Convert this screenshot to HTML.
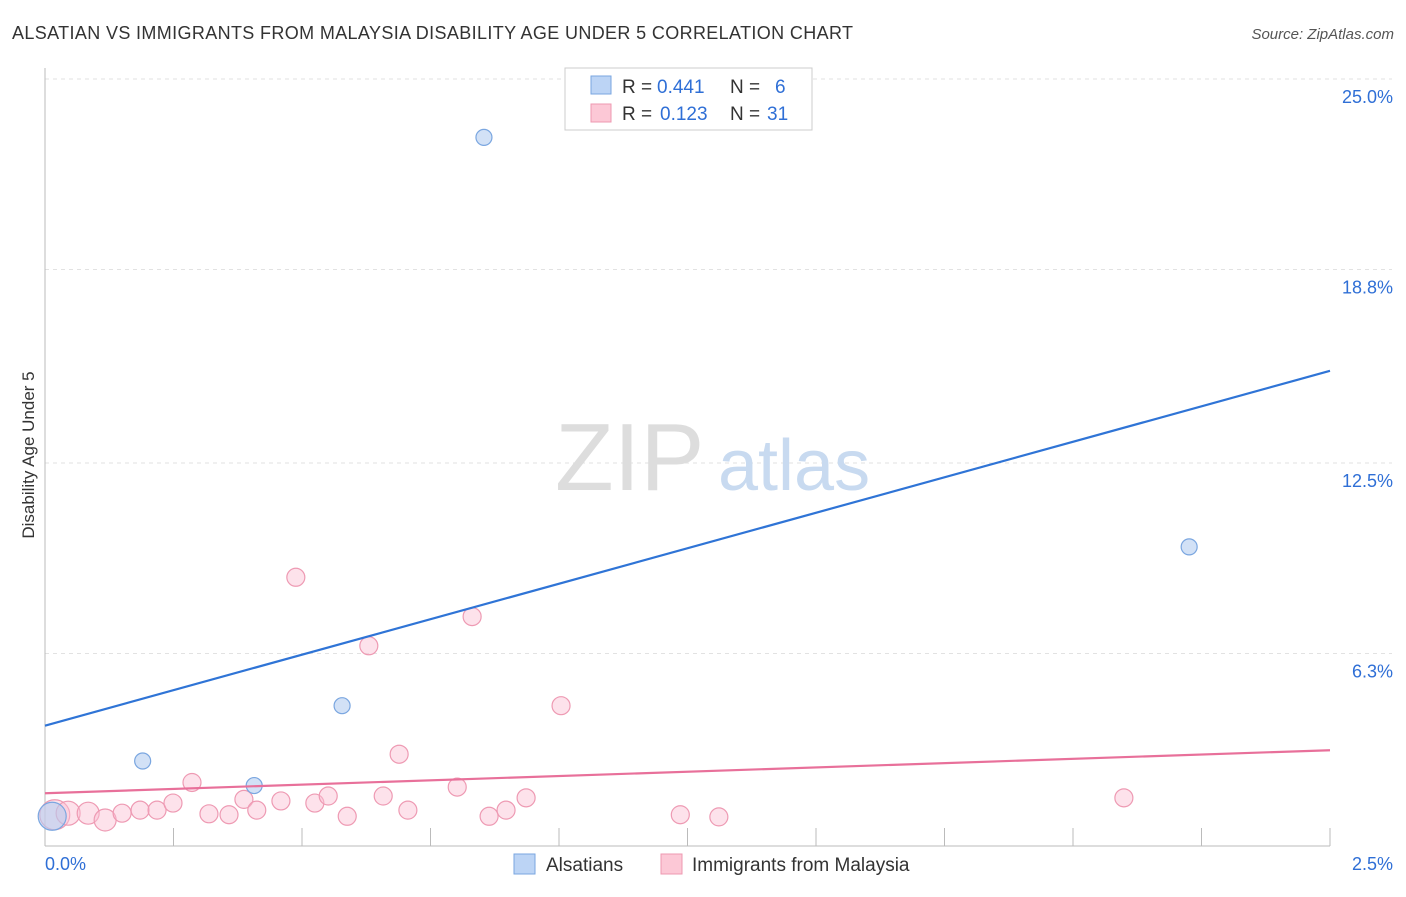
<!DOCTYPE html>
<html><head><meta charset="utf-8"><style>
body{margin:0;background:#fff;font-family:"Liberation Sans",sans-serif;}
svg text{font-family:"Liberation Sans",sans-serif;}
</style></head><body>
<svg id="chart" width="1406" height="892" xmlns="http://www.w3.org/2000/svg">
<text x="12" y="39" font-size="18" fill="#333" textLength="841">ALSATIAN VS IMMIGRANTS FROM MALAYSIA DISABILITY AGE UNDER 5 CORRELATION CHART</text>
<text x="1394" y="39" font-size="15" fill="#555" font-style="italic" text-anchor="end">Source: ZipAtlas.com</text>
<g id="grid"></g>
<g><text x="555" y="490" font-size="96" fill="#ddd" font-family="Liberation Serif">ZIP</text><text x="718" y="490" font-size="72" fill="#c8daf0">atlas</text></g>
<text transform="translate(34,455) rotate(-90)" font-size="17" fill="#333" text-anchor="middle">Disability Age Under 5</text>
<g id="marks"></g>
<g>
<rect x="565" y="68" width="247" height="62" fill="#fff" stroke="#ccc"/>
<rect x="591" y="76" width="20" height="18" fill="#bcd4f5" stroke="#7aa6e0"/>
<rect x="591" y="104" width="20" height="18" fill="#fcc8d6" stroke="#ee98b0"/>
<text x="622" y="93" font-size="19" fill="#333">R =</text>
<text x="657" y="93" font-size="19" fill="#2f6fd6">0.441</text>
<text x="730" y="93" font-size="19" fill="#333">N =</text>
<text x="775" y="93" font-size="19" fill="#2f6fd6">6</text>
<text x="622" y="120" font-size="19" fill="#333">R =</text>
<text x="660" y="120" font-size="19" fill="#2f6fd6">0.123</text>
<text x="730" y="120" font-size="19" fill="#333">N =</text>
<text x="767" y="120" font-size="19" fill="#2f6fd6">31</text>
</g>
<g>
<rect x="514" y="854" width="21" height="20" fill="#bcd4f5" stroke="#7aa6e0"/>
<text x="546" y="871" font-size="19" fill="#333">Alsatians</text>
<rect x="661" y="854" width="21" height="20" fill="#fcc8d6" stroke="#ee98b0"/>
<text x="692" y="871" font-size="19" fill="#333">Immigrants from Malaysia</text>
</g>
</svg>
<script>
const yTicks=[25.0,18.8,12.5,6.3];
const yTickLabels=["25.0%","18.8%","12.5%","6.3%"];
const xTickLabels=["0.0%","2.5%"];
const blueX=[0.854,0.19,0.407,0.578,2.226,0.014];
const blueY=[23.1,2.8,2.0,4.6,9.77,1.0];
const blueLine=[3.95,15.5];
const pinkX=[0.019,0.045,0.084,0.117,0.150,0.185,0.218,0.249,0.286,0.319,0.358,0.387,0.412,0.459,0.488,0.525,0.551,0.588,0.630,0.658,0.689,0.706,0.802,0.831,0.864,0.897,0.936,1.004,1.236,1.311,2.099];
const pinkY=[1.05,1.1,1.1,0.88,1.1,1.2,1.2,1.43,2.1,1.08,1.05,1.55,1.2,1.5,8.78,1.43,1.66,1.0,6.55,1.66,3.02,1.2,1.95,7.5,1.0,1.2,1.6,4.6,1.05,0.98,1.6];
const pinkR=[15,12,11,11,9,9,9,9,9,9,9,9,9,9,9,9,9,9,9,9,9,9,9,9,9,9,9,9,9,9,9];
const pinkLine=[1.75,3.15];
const NS="http://www.w3.org/2000/svg";
const X0=45,X1=1330,Y0=847;
const xs=v=>X0+v/2.5*(X1-X0);
const ys=v=>Y0-v*30.72;
function mk(t,a,p){const e=document.createElementNS(NS,t);for(const k in a)e.setAttribute(k,a[k]);p.appendChild(e);return e;}
const g=document.getElementById('grid'),m=document.getElementById('marks');
yTicks.forEach((v,i)=>{
 const l=mk('line',{x1:X0,x2:1392,y1:ys(v),y2:ys(v),stroke:'#e2e2e2','stroke-dasharray':'4,4'},g);
 
 
 const t=mk('text',{x:1393,y:ys(v)+24,'font-size':18,fill:'#2f6fd6','text-anchor':'end'},g);
 t.textContent=yTickLabels[i];
 
 
});
const ax=mk('line',{x1:X0,x2:X0,y1:68,y2:846,stroke:'#bbb'},g);


const bx=mk('line',{x1:X0,x2:X1,y1:846,y2:846,stroke:'#bbb'},g);


for(let i=1;i<=10;i++){const tk=mk('line',{x1:xs(i*0.25),x2:xs(i*0.25),y1:828,y2:846,stroke:'#bbb'},g);
 
 }
[[0,'start',45],[2.5,'end',1393]].forEach((d,i)=>{const t=mk('text',{x:d[2],y:870,'font-size':18,fill:'#2f6fd6','text-anchor':d[1]},g);t.textContent=xTickLabels[i];
 
 });
pinkX.forEach((x,i)=>{const c=mk('circle',{cx:xs(x),cy:ys(pinkY[i]),r:pinkR[i],fill:'rgba(250,190,210,0.45)',stroke:'#ee9ab3','stroke-width':1.2},m);
 
 });
blueX.forEach((x,i)=>{const c=mk('circle',{cx:xs(x),cy:ys(blueY[i]),r:i==5?14:8,fill:'rgba(180,205,240,0.6)',stroke:'#7aa6e0','stroke-width':1.2},m);
 
 });
const bl=mk('line',{x1:xs(0),y1:ys(blueLine[0]),x2:xs(2.5),y2:ys(blueLine[1]),stroke:'#2f74d6','stroke-width':2.2},m);


const pl=mk('line',{x1:xs(0),y1:ys(pinkLine[0]),x2:xs(2.5),y2:ys(pinkLine[1]),stroke:'#e8709a','stroke-width':2.2},m);


</script>
</body></html>
